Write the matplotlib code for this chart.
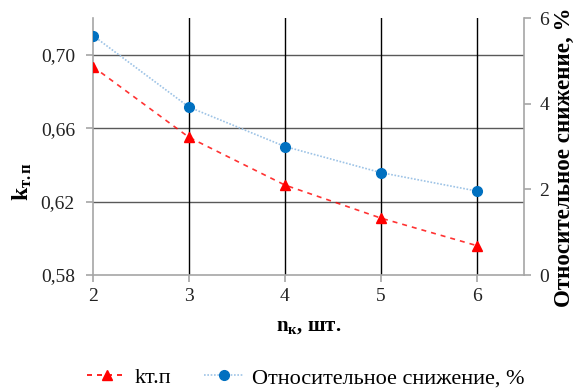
import matplotlib.pyplot as plt
from matplotlib.lines import Line2D

plt.rcParams['font.family'] = ['Liberation Serif', 'DejaVu Serif']
plt.rcParams['mathtext.fontset'] = 'custom'
plt.rcParams['mathtext.rm'] = 'Liberation Serif'
plt.rcParams['mathtext.bf'] = 'Liberation Serif:bold'
plt.rcParams['mathtext.it'] = 'Liberation Serif:italic'

# Количество кассет и показатели
n_k = [2, 3, 4, 5, 6]
k_tp = [0.6935, 0.655, 0.629, 0.611, 0.596]
snizhenie = [5.59, 3.92, 3.0, 2.39, 1.96]

left_ticks = [0.58, 0.62, 0.66, 0.70]
left_labels = ['0,58', '0,62', '0,66', '0,70']
right_ticks = [0, 2, 4, 6]

spine_col = '#a6a6a6'
red = '#ff0000'
blue = '#0070c0'

fig = plt.figure(figsize=(5.77, 3.88), dpi=100)
ax = fig.add_axes([0.1612, 0.2912, 0.908 - 0.1612, 0.9536 - 0.2912])
ax2 = ax.twinx()

ax.set_xlim(2, 6.49)
ax.set_ylim(0.58, 0.72)
ax2.set_ylim(0, 6)

# сетка
for y in left_ticks[1:]:
    ax.axhline(y, color='#595959', lw=1.0, zorder=1)
for x in n_k[1:]:
    ax.axvline(x, color='black', lw=1.0, zorder=1)

ax.plot(n_k, k_tp, color=red, ls=(0, (3, 3)), lw=1.2, alpha=0.8, zorder=3)
ax.plot(n_k, k_tp, ls='none', marker='^', ms=7, color=red, zorder=4)
ax2.plot(n_k, snizhenie, color='#9dc3e6', ls=(0, (1, 1)), lw=1.2, zorder=3)
ax2.plot(n_k, snizhenie, ls='none', marker='o', ms=7, color=blue, zorder=4)

ax.set_xticks(n_k)
ax.set_xticklabels([str(v) for v in n_k])
ax.set_yticks(left_ticks)
ax.set_yticklabels(left_labels)
ax2.set_yticks(right_ticks)

for a in (ax, ax2):
    a.spines['top'].set_visible(False)
    for s in ('left', 'right', 'bottom'):
        a.spines[s].set_color(spine_col)
        a.spines[s].set_linewidth(1.2)
    a.tick_params(colors=spine_col, labelcolor='#222222', labelsize=14,
                  length=5, width=1.2, direction='out')
ax.spines['right'].set_visible(False)
ax2.spines['left'].set_visible(False)
ax2.spines['bottom'].set_visible(False)
ax.tick_params(axis='x', pad=4)
ax.tick_params(axis='y', pad=8)
ax2.tick_params(axis='y', pad=6)

ax.set_xlabel(r'$\mathbf{n_{к}}$, шт.', fontsize=15, fontweight='bold', labelpad=8)
ax.set_ylabel(r'$\mathbf{k_{т.п}}$', fontsize=17, fontweight='bold')
ax.yaxis.set_label_coords(-0.137, 0.365)
ax2.set_ylabel('Относительное снижение, %', fontsize=16.6, fontweight='bold',
               va='center')
ax2.yaxis.set_label_coords(1.094, 0.458)

handles = [
    Line2D([], [], color=red, ls=(0, (3, 3)), lw=1.2, marker='^', ms=7,
           markerfacecolor=red, markeredgecolor=red),
    Line2D([], [], color='#9dc3e6', ls=(0, (1, 1)), lw=1.2, marker='o', ms=7,
           markerfacecolor=blue, markeredgecolor=blue),
]
fig.legend(handles, ['kт.п', 'Относительное снижение, %'], loc='center',
           bbox_to_anchor=(0.53, 0.026), ncol=2, frameon=False, fontsize=16,
           handlelength=1.8, columnspacing=1.45, handletextpad=0.35,
           borderpad=0, borderaxespad=0)

fig.savefig('out.png', dpi=100)
